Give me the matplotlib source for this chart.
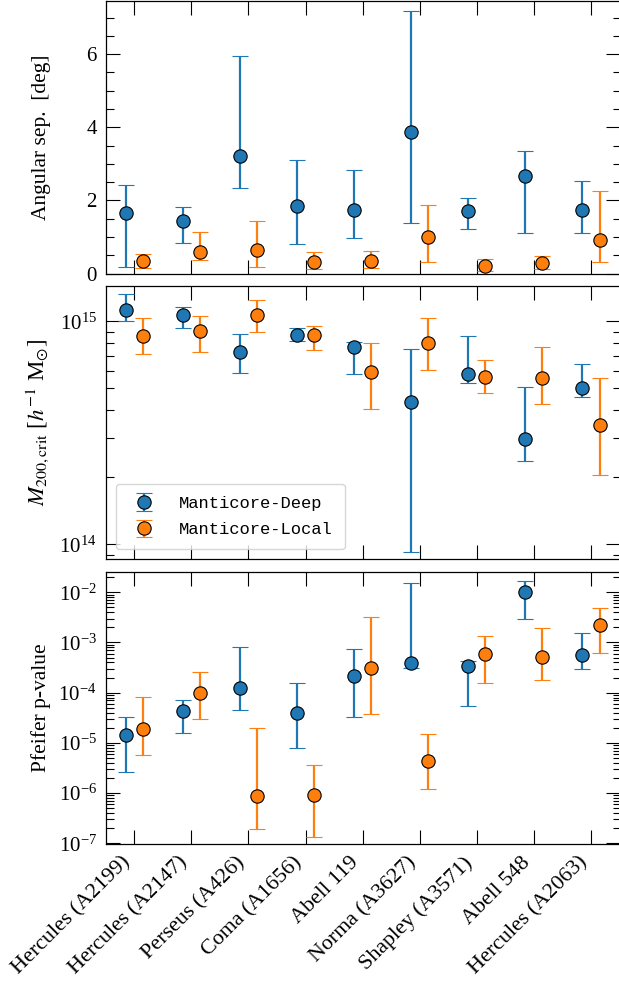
import matplotlib
matplotlib.use("Agg")
import matplotlib.pyplot as plt
import numpy as np
from matplotlib.ticker import MultipleLocator, LogLocator, NullFormatter

plt.rcParams["font.family"] = "serif"
plt.rcParams["font.serif"] = ["Liberation Serif", "DejaVu Serif"]
plt.rcParams["mathtext.fontset"] = "stix"
plt.rcParams["font.size"] = 15.5
plt.rcParams["axes.linewidth"] = 0.9
for ax_ in ("xtick", "ytick"):
    plt.rcParams[f"{ax_}.direction"] = "in"
    plt.rcParams[f"{ax_}.major.size"] = 10
    plt.rcParams[f"{ax_}.minor.size"] = 5.4
    plt.rcParams[f"{ax_}.major.width"] = 0.8
    plt.rcParams[f"{ax_}.minor.width"] = 0.8
    plt.rcParams[f"{ax_}.major.pad"] = 6.5
    plt.rcParams[f"{ax_}.minor.pad"] = 6.5
plt.rcParams["ytick.labelsize"] = 15
plt.rcParams["xtick.labelsize"] = 15.8
plt.rcParams["xtick.top"] = True
plt.rcParams["ytick.right"] = True

clusters = ["Hercules (A2199)", "Hercules (A2147)", "Perseus (A426)", "Coma (A1656)",
            "Abell 119", "Norma (A3627)", "Shapley (A3571)", "Abell 548",
            "Hercules (A2063)"]

# angular separation [deg]: value, lower bound, upper bound
sep_deep = [1.66, 1.44, 3.21, 1.86, 1.73, 3.86, 1.72, 2.66, 1.75]
sep_deep_lo = [0.18, 0.83, 2.33, 0.81, 0.98, 1.39, 1.21, 1.10, 1.10]
sep_deep_hi = [2.41, 1.82, 5.96, 3.12, 2.82, 7.19, 2.06, 3.34, 2.52]
sep_local = [0.35, 0.59, 0.64, 0.33, 0.34, 1.01, 0.21, 0.28, 0.91]
sep_local_lo = [0.15, 0.37, 0.18, 0.14, 0.15, 0.32, 0.06, 0.13, 0.33]
sep_local_hi = [0.53, 1.15, 1.44, 0.58, 0.62, 1.88, 0.41, 0.47, 2.26]

# M200c [h^-1 Msun]
mass_deep = [1.12e15, 1.07e15, 7.3e14, 8.7e14, 7.64e14, 4.34e14, 5.78e14, 2.96e14, 5.01e14]
mass_deep_lo = [1.0e15, 9.3e14, 5.87e14, 8.16e14, 5.78e14, 9.27e13, 5.28e14, 2.37e14, 4.56e14]
mass_deep_hi = [1.32e15, 1.16e15, 8.8e14, 9.37e14, 8.11e14, 7.54e14, 8.63e14, 5.09e14, 6.41e14]
mass_local = [8.63e14, 9.06e14, 1.07e15, 8.7e14, 5.93e14, 8.02e14, 5.62e14, 5.57e14, 3.43e14]
mass_local_lo = [7.11e14, 7.31e14, 8.93e14, 7.43e14, 4.06e14, 6.05e14, 4.75e14, 4.28e14, 2.04e14]
mass_local_hi = [1.04e15, 1.06e15, 1.25e15, 9.57e14, 7.97e14, 1.04e15, 6.68e14, 7.69e14, 5.55e14]

# Pfeifer p-value
pval_deep = [1.44e-5, 4.33e-5, 1.24e-4, 3.89e-5, 2.15e-4, 3.85e-4, 3.36e-4, 1.0e-2, 5.56e-4]
pval_deep_lo = [2.6e-6, 1.58e-5, 4.46e-5, 8.05e-6, 3.24e-5, 3.16e-4, 5.52e-5, 2.94e-3, 2.92e-4]
pval_deep_hi = [3.29e-5, 7.28e-5, 8.15e-4, 1.54e-4, 7.55e-4, 1.56e-2, 4.35e-4, 1.71e-2, 1.55e-3]
pval_local = [1.87e-5, 1.0e-4, 8.63e-7, 9.18e-7, 3.06e-4, 4.43e-6, 5.82e-4, 5.22e-4, 2.27e-3]
pval_local_lo = [5.66e-6, 2.95e-5, 1.9e-7, 1.34e-7, 3.72e-5, 1.21e-6, 1.59e-4, 1.79e-4, 6.1e-4]
pval_local_hi = [8.35e-5, 2.59e-4, 1.95e-5, 3.63e-6, 3.18e-3, 1.51e-5, 1.37e-3, 1.98e-3, 4.88e-3]

labels = ["Manticore-Deep", "Manticore-Local"]
colors = ["#1f77b4", "#ff7f0e"]

fig = plt.figure(figsize=(6.19, 9.83), dpi=100)
left, width = 0.1708, 0.8301
ax1 = fig.add_axes([left, 0.7216, width, 0.2769])
ax2 = fig.add_axes([left, 0.4310, width, 0.2777], sharex=ax1)
ax3 = fig.add_axes([left, 0.1414, width, 0.2767], sharex=ax1)

x = np.arange(len(clusters))
off = 0.15

panels = [
    (ax1, [(sep_deep, sep_deep_lo, sep_deep_hi), (sep_local, sep_local_lo, sep_local_hi)]),
    (ax2, [(mass_deep, mass_deep_lo, mass_deep_hi), (mass_local, mass_local_lo, mass_local_hi)]),
    (ax3, [(pval_deep, pval_deep_lo, pval_deep_hi), (pval_local, pval_local_lo, pval_local_hi)]),
]
for ax, series in panels:
    for k, (val, lo, hi) in enumerate(series):
        val, lo, hi = np.array(val), np.array(lo), np.array(hi)
        ax.errorbar(x + (2 * k - 1) * off, val, yerr=[val - lo, hi - val],
                    fmt="o", color=colors[k], ms=9.6, mec="k", mew=0.8,
                    elinewidth=1.6, capsize=5.6, capthick=1.6, label=labels[k])

ax1.set_ylim(0, 7.44)
ax1.yaxis.set_major_locator(MultipleLocator(2))
ax1.yaxis.set_minor_locator(MultipleLocator(0.5))
ax1.set_ylabel("Angular sep.  [deg]")

ax2.set_yscale("log")
ax2.set_ylim(8.57e13, 1.435e15)
ax2.yaxis.set_minor_formatter(NullFormatter())
ax2.set_ylabel(r"$M_{200,\mathrm{crit}}$ [$h^{-1}$ M$_{\odot}$]", fontsize=16.5)
ax2.legend(loc="lower left", prop={"family": "Liberation Mono", "size": 12.3},
           borderpad=0.7, labelspacing=0.65, handlelength=1.9, handletextpad=1.1,
           borderaxespad=0.6)

ax3.set_yscale("log")
ax3.set_ylim(9.7e-8, 2.53e-2)
ax3.yaxis.set_major_locator(LogLocator(base=10, numticks=15))
ax3.yaxis.set_minor_locator(LogLocator(base=10, subs=np.arange(2, 10), numticks=15))
ax3.yaxis.set_minor_formatter(NullFormatter())
ax3.set_ylabel("Pfeifer p-value")

for ax in (ax1, ax2, ax3):
    ax.yaxis.set_label_coords(-0.106, 0.5)

ax1.set_xlim(-0.5, 8.5)
ax1.set_xticks(x)
ax3.set_xticklabels(clusters, rotation=45, ha="right")
plt.setp(ax1.get_xticklabels(), visible=False)
plt.setp(ax2.get_xticklabels(), visible=False)

fig.savefig("out.png", dpi=100)
